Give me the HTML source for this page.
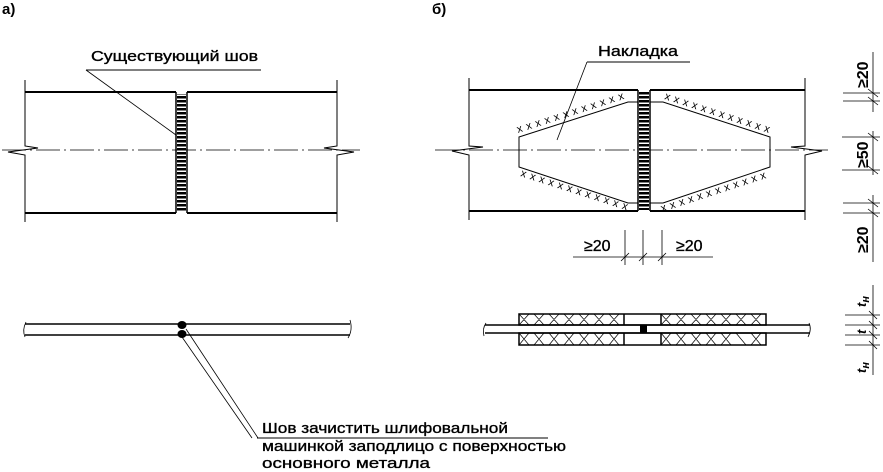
<!DOCTYPE html>
<html><head><meta charset="utf-8"><style>
html,body{margin:0;padding:0;background:#fff;}
svg{display:block;}
text{font-family:"Liberation Sans",sans-serif;fill:#000;}
.lbl{stroke:#000;stroke-width:0.35;}
</style></head><body>
<svg width="883" height="472" viewBox="0 0 883 472" xmlns="http://www.w3.org/2000/svg">
<defs>
<pattern id="ws" width="12" height="4" patternUnits="userSpaceOnUse"><rect width="12" height="2.5" fill="#000"/></pattern>
</defs>
<!-- Panel a -->
<text x="2" y="14" font-size="15" font-weight="bold">а)</text>
<text class="lbl" x="91" y="61" font-size="15" textLength="167" lengthAdjust="spacingAndGlyphs">Существующий шов</text>
<line x1="86" y1="70" x2="261" y2="70" stroke="#000" stroke-width="1"/>
<line x1="86" y1="70" x2="176" y2="135" stroke="#000" stroke-width="0.8"/>
<g stroke="#000" fill="none">
<line x1="25" y1="92" x2="176" y2="92" stroke-width="2"/>
<line x1="25" y1="213" x2="176" y2="213" stroke-width="2"/>
<line x1="187" y1="92" x2="337" y2="92" stroke-width="2"/>
<line x1="187" y1="213" x2="337" y2="213" stroke-width="2"/>
<line x1="176" y1="92" x2="176" y2="213" stroke-width="1.5"/>
<line x1="187" y1="92" x2="187" y2="213" stroke-width="1.5"/>
<polyline points="25,80 25,146 38,148 8,152 25,155 25,222" stroke-width="1"/>
<polyline points="337,80 337,146 324,148 354,152 337,155 337,222" stroke-width="1"/>
<line x1="2" y1="150" x2="360" y2="150" stroke-width="0.8" stroke-dasharray="24,4,2,4"/>
</g>
<rect x="177" y="94" width="9" height="118" fill="url(#ws)"/>
<!-- bottom a -->
<g stroke="#000" fill="none">
<line x1="25" y1="324" x2="350" y2="324" stroke-width="1.5"/>
<line x1="25" y1="335" x2="350" y2="335" stroke-width="1.5"/>
<path d="M26,322 Q22,330 25,337" stroke-width="0.8"/>
<path d="M350,320 Q353,330 348,338" stroke-width="0.8"/>
<line x1="186" y1="329" x2="258" y2="438" stroke-width="0.8"/>
<line x1="182" y1="337" x2="252" y2="438" stroke-width="0.8"/>
<line x1="257" y1="438" x2="548" y2="438" stroke-width="1"/>
</g>
<ellipse cx="182" cy="325" rx="4.5" ry="4" fill="#000"/>
<ellipse cx="182" cy="334" rx="4.5" ry="4" fill="#000"/>
<text class="lbl" x="262" y="433" font-size="15" textLength="246" lengthAdjust="spacingAndGlyphs">Шов зачистить шлифовальной</text>
<text class="lbl" x="262" y="451" font-size="15" textLength="304" lengthAdjust="spacingAndGlyphs">машинкой заподлицо с поверхностью</text>
<text class="lbl" x="262" y="468" font-size="15" textLength="168" lengthAdjust="spacingAndGlyphs">основного металла</text>

<!-- Panel b -->
<text x="432" y="14" font-size="15" font-weight="bold">б)</text>
<text class="lbl" x="598" y="56" font-size="15" textLength="80" lengthAdjust="spacingAndGlyphs">Накладка</text>
<line x1="587" y1="62" x2="690" y2="62" stroke="#000" stroke-width="1"/>
<line x1="587" y1="62" x2="557" y2="140" stroke="#000" stroke-width="0.8"/>
<g stroke="#000" fill="none">
<line x1="469" y1="90" x2="638" y2="90" stroke-width="2"/>
<line x1="469" y1="211" x2="638" y2="211" stroke-width="2"/>
<line x1="650" y1="90" x2="805" y2="90" stroke-width="2"/>
<line x1="650" y1="211" x2="805" y2="211" stroke-width="2"/>
<line x1="638" y1="90" x2="638" y2="211" stroke-width="1.5"/>
<line x1="650" y1="90" x2="650" y2="211" stroke-width="1.5"/>
<polyline points="469,78 469,146 483,147 452,151 469,155 469,220" stroke-width="1"/>
<polyline points="805,78 805,146 791,147 822,151 805,155 805,220" stroke-width="1"/>
<line x1="435" y1="150" x2="828" y2="150" stroke-width="0.8" stroke-dasharray="24,4,2,4"/>
<polyline points="638,102 628,102 519,137 519,167 628,203 638,203" stroke-width="1"/>
<polyline points="650,102 663,102 770,137 770,167 663,203 650,203" stroke-width="1"/>
</g>
<rect x="639" y="92" width="10" height="118" fill="url(#ws)"/>
<!-- crosses along slants -->
<g font-size="11">
<text x="518" y="133" transform="rotate(-17.8 518 133)" textLength="112" lengthAdjust="spacing">xxxxxxxxxxxx</text>
<text x="520" y="176" transform="rotate(17.8 520 176)" textLength="112" lengthAdjust="spacing">xxxxxxxxxxxx</text>
<text x="664" y="99" transform="rotate(18 664 99)" textLength="110" lengthAdjust="spacing">xxxxxxxxxxxx</text>
<text x="662" y="212" transform="rotate(-18 662 212)" textLength="110" lengthAdjust="spacing">xxxxxxxxxxxx</text>
</g>
<!-- bottom dims -->
<g stroke="#000" stroke-width="0.8" fill="none">
<line x1="625" y1="230" x2="625" y2="265"/>
<line x1="643" y1="230" x2="643" y2="265"/>
<line x1="662" y1="230" x2="662" y2="265"/>
<line x1="573" y1="257" x2="713" y2="257"/>
<line x1="621" y1="261" x2="629" y2="253"/>
<line x1="639" y1="261" x2="647" y2="253"/>
<line x1="658" y1="261" x2="666" y2="253"/>
</g>
<text class="lbl" x="584" y="251" font-size="16">≥20</text>
<text class="lbl" x="676" y="251" font-size="16">≥20</text>
<!-- right dims -->
<g stroke="#000" stroke-width="0.8" fill="none">
<line x1="873" y1="52" x2="873" y2="112"/>
<line x1="843" y1="93" x2="880" y2="93"/>
<line x1="843" y1="101" x2="880" y2="101"/>
<line x1="868" y1="89" x2="878" y2="97"/><line x1="868" y1="97" x2="878" y2="105"/>
<line x1="873" y1="131" x2="873" y2="175"/>
<line x1="842" y1="137" x2="880" y2="137"/>
<line x1="842" y1="170" x2="880" y2="170"/>
<line x1="868" y1="133" x2="878" y2="141"/><line x1="868" y1="166" x2="878" y2="174"/>
<line x1="873" y1="195" x2="873" y2="262"/>
<line x1="843" y1="203" x2="880" y2="203"/>
<line x1="843" y1="213" x2="880" y2="213"/>
<line x1="868" y1="199" x2="878" y2="207"/><line x1="868" y1="209" x2="878" y2="217"/>
</g>
<text font-size="16" font-weight="bold" transform="translate(868 88) rotate(-90)">≥20</text>
<text font-size="16" font-weight="bold" transform="translate(868 168) rotate(-90)">≥50</text>
<text font-size="16" font-weight="bold" transform="translate(868 253) rotate(-90)">≥20</text>
<!-- bottom b -->
<g stroke="#000" fill="none">
<line x1="485" y1="325" x2="810" y2="325" stroke-width="1.5"/>
<line x1="485" y1="333" x2="810" y2="333" stroke-width="1.5"/>
<path d="M486,323 Q482,329 484,336" stroke-width="0.8"/>
<path d="M809,323 Q812,329 808,337" stroke-width="0.8"/>
<rect x="519" y="314" width="247" height="11" stroke-width="1.5"/>
<rect x="519" y="333" width="247" height="12" stroke-width="1.5"/>
<line x1="624" y1="314" x2="624" y2="325" stroke-width="1.5"/>
<line x1="661" y1="314" x2="661" y2="325" stroke-width="1.5"/>
<line x1="624" y1="333" x2="624" y2="345" stroke-width="1.5"/>
<line x1="661" y1="333" x2="661" y2="345" stroke-width="1.5"/>
</g>
<g stroke="#000" stroke-width="0.7">
<path d="M519,314 l10,11 M529,314 l-10,11 M534,314 l10,11 M544,314 l-10,11 M549,314 l10,11 M559,314 l-10,11 M564,314 l10,11 M574,314 l-10,11 M579,314 l10,11 M589,314 l-10,11 M594,314 l10,11 M604,314 l-10,11 M609,314 l10,11 M619,314 l-10,11"/>
<path d="M661,314 l10,11 M671,314 l-10,11 M676,314 l10,11 M686,314 l-10,11 M691,314 l10,11 M701,314 l-10,11 M706,314 l10,11 M716,314 l-10,11 M721,314 l10,11 M731,314 l-10,11 M736,314 l10,11 M746,314 l-10,11 M751,314 l10,11 M761,314 l-10,11"/>
<path d="M519,333 l10,12 M529,333 l-10,12 M534,333 l10,12 M544,333 l-10,12 M549,333 l10,12 M559,333 l-10,12 M564,333 l10,12 M574,333 l-10,12 M579,333 l10,12 M589,333 l-10,12 M594,333 l10,12 M604,333 l-10,12 M609,333 l10,12 M619,333 l-10,12"/>
<path d="M661,333 l10,12 M671,333 l-10,12 M676,333 l10,12 M686,333 l-10,12 M691,333 l10,12 M701,333 l-10,12 M706,333 l10,12 M716,333 l-10,12 M721,333 l10,12 M731,333 l-10,12 M736,333 l10,12 M751,333 l10,12 M761,333 l-10,12"/>
</g>
<rect x="640" y="325" width="7" height="8" fill="#000"/>
<g stroke="#000" stroke-width="0.8" fill="none">
<line x1="873" y1="285" x2="873" y2="375"/>
<line x1="845" y1="315" x2="880" y2="315"/>
<line x1="845" y1="325" x2="880" y2="325"/>
<line x1="845" y1="335" x2="880" y2="335"/>
<line x1="845" y1="345" x2="880" y2="345"/>
<line x1="869" y1="311" x2="877" y2="319"/><line x1="869" y1="321" x2="877" y2="329"/>
<line x1="869" y1="331" x2="877" y2="339"/><line x1="869" y1="341" x2="877" y2="349"/>
</g>
<text font-size="13" font-style="italic" font-weight="bold" transform="translate(866 307) rotate(-90)">t<tspan font-size="11" dy="3">н</tspan></text>
<text font-size="13" font-style="italic" font-weight="bold" transform="translate(866 334) rotate(-90)">t</text>
<text font-size="13" font-style="italic" font-weight="bold" transform="translate(866 373) rotate(-90)">t<tspan font-size="11" dy="3">н</tspan></text>
</svg>
</body></html>
